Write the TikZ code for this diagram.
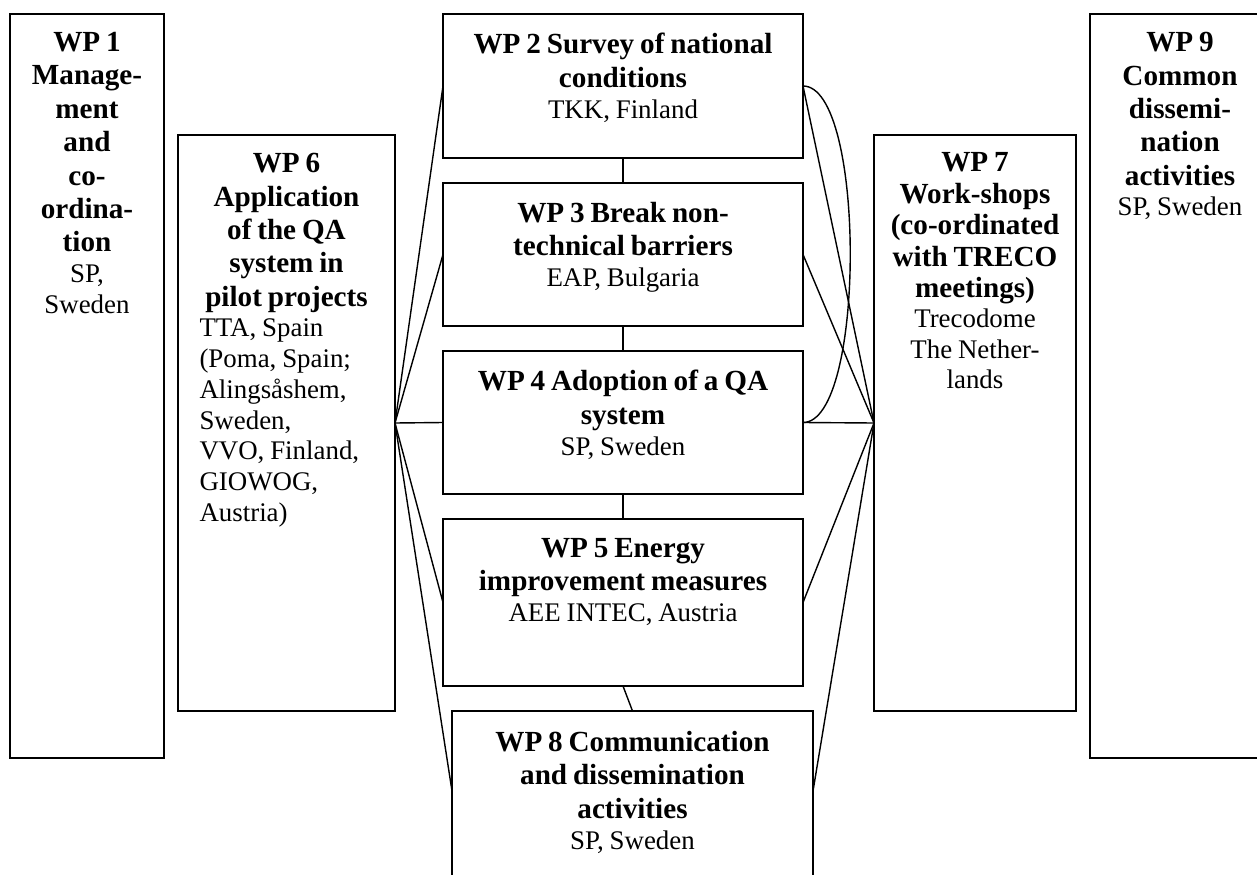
\documentclass[tikz,border=0pt]{standalone}
\usepackage{fontspec}
\setmainfont{Liberation Serif}
\usetikzlibrary{fit}
\newcommand{\tbf}{\fontsize{16.6}{19}\selectfont\bfseries}
\newcommand{\tbfs}{\fontsize{16.6}{18}\selectfont\bfseries}
\newcommand{\tnm}{\fontsize{15.3}{17.5}\selectfont\mdseries}
\newcommand{\tnms}{\fontsize{15.3}{17.1}\selectfont\mdseries}
\begin{document}
\begin{tikzpicture}[x=0.02cm,y=-0.02cm,
  wpbox/.style={draw,line width=1.1pt,inner sep=0pt,outer sep=0pt,rectangle},
  lbl/.style={anchor=north,inner sep=0pt,align=center,text width=#1},
  lbl/.default=3.4cm,
  link/.style={line width=0.8pt}]
\useasboundingbox (0,0) rectangle (1257,875);
% boxes
\node[wpbox,fit={(10,14) (164,758)}] (wp1) {};
\node[wpbox,fit={(1090,14) (1275,758)}] (wp9) {};
\node[wpbox,fit={(178,135) (395,711)}] (wp6) {};
\node[wpbox,fit={(874,135) (1076,711)}] (wp7) {};
\node[wpbox,fit={(443,14) (803,158)}] (wp2) {};
\node[wpbox,fit={(443,183) (803,326)}] (wp3) {};
\node[wpbox,fit={(443,351) (803,494)}] (wp4) {};
\node[wpbox,fit={(443,519) (803,686)}] (wp5) {};
\node[wpbox,fit={(452,711) (813,880)}] (wp8) {};
% labels
\node[lbl=2.9cm,yshift=-0.36cm] (t1) at (wp1.north) {{\tbf WP 1\\Manage-\\ment\\and\\co-\\ordina-\\tion\par}{\tnm SP,\\Sweden\par}};
\node[lbl=3.3cm,yshift=-0.36cm] (t9) at (1180,14) {{\tbf WP 9\\Common\\dissemi-\\nation\\activities\par}{\tnm SP, Sweden\par}};
\node[lbl=3.48cm,yshift=-0.36cm,align=left] (t6) at (wp6.north) {{\tbf\centering WP 6\\Application\\of the QA\\system in\\pilot projects\par}{\tnm\raggedright TTA, Spain\\(Poma, Spain;\\Alingsåshem,\\Sweden,\\VVO, Finland,\\GIOWOG,\\Austria)\par}};
\node[lbl=3.9cm,yshift=-0.34cm] (t7) at (wp7.north) {{\tbfs WP 7\\Work-shops\\(co-ordinated\\with TRECO\\meetings)\par}{\tnms Trecodome\\The Nether-\\lands\par}};
\node[lbl=7cm,yshift=-0.38cm] (t2) at (wp2.north) {{\tbf WP 2 Survey of national\\conditions\par}{\tnm TKK, Finland\par}};
\node[lbl=7cm,yshift=-0.38cm] (t3) at (wp3.north) {{\tbf WP 3 Break non-\\technical barriers\par}{\tnm EAP, Bulgaria\par}};
\node[lbl=7cm,yshift=-0.38cm] (t4) at (wp4.north) {{\tbf WP 4 Adoption of a QA\\system\par}{\tnm SP, Sweden\par}};
\node[lbl=7cm,yshift=-0.38cm] (t5) at (wp5.north) {{\tbf WP 5 Energy\\improvement measures\par}{\tnm AEE INTEC, Austria\par}};
\node[lbl=7cm,yshift=-0.40cm] (t8) at (wp8.north) {{\tbf WP 8 Communication\\and dissemination\\activities\par}{\tnm SP, Sweden\par}};
% vertical chain
\draw[link] (wp2.south) -- (wp3.north);
\draw[link] (wp3.south) -- (wp4.north);
\draw[link] (wp4.south) -- (wp5.north);
\draw[link] (wp5.south) -- (wp8.north);
% WP6 fan
\draw[link] (wp6.east) -- (wp2.west);
\draw[link] (wp6.east) -- (wp3.west);
\draw[link] (wp6.east) -- (wp4.west);
\draw[link] (wp6.east) -- (wp5.west);
\draw[link] (wp6.east) -- ([yshift=0.09cm]wp8.west);
% WP7 fan
\draw[link] (wp7.west) -- (wp2.east);
\draw[link] (wp7.west) -- (wp3.east);
\draw[link] (wp7.west) -- (wp4.east);
\draw[link] (wp7.west) -- (wp5.east);
\draw[link] (wp7.west) -- ([yshift=0.09cm]wp8.east);
% loop WP2 - WP4
\draw[link] (wp2.east) .. controls +(63,0) and +(63,0) .. (wp4.east);
\end{tikzpicture}
\end{document}
